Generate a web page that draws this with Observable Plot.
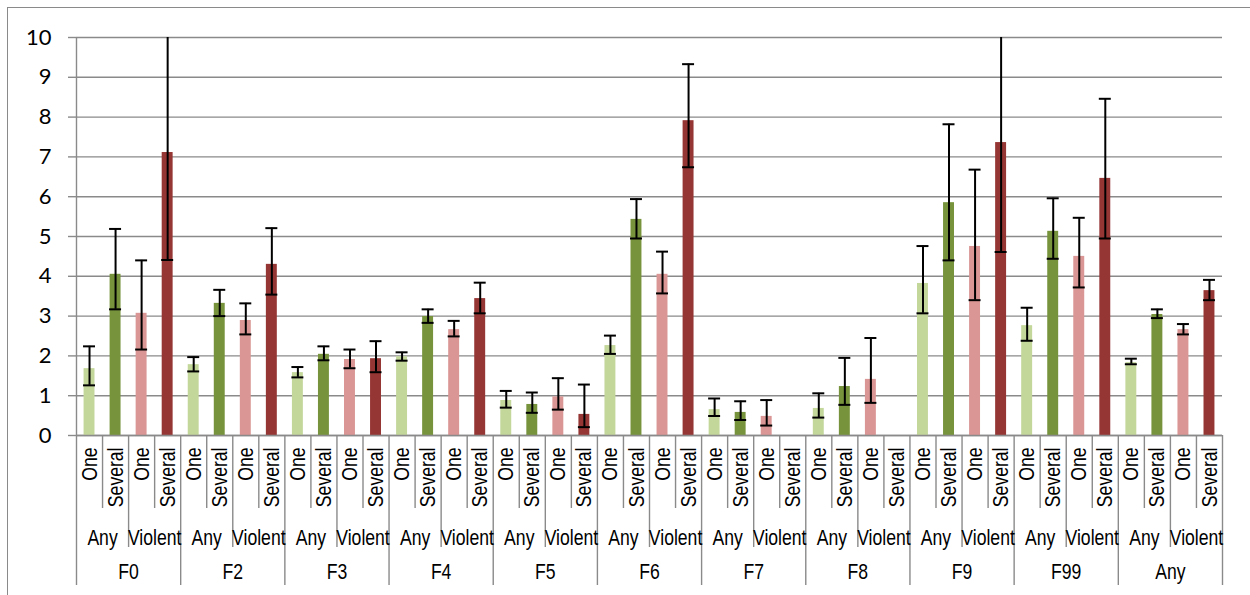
<!DOCTYPE html>
<html><head><meta charset="utf-8">
<script src="https://cdn.jsdelivr.net/npm/d3@7"></script>
<script src="https://cdn.jsdelivr.net/npm/@observablehq/plot@0.6"></script>
<style>
html,body{margin:0;padding:0;background:#fff;}
#wrap{position:relative;width:1250px;height:595px;overflow:hidden;}
#border{position:absolute;left:7px;top:7px;width:1300px;height:700px;border:1.5px solid #8a8a8a;box-sizing:border-box;pointer-events:none;}
</style></head><body>
<div id="wrap"><div id="chart"></div><div id="border"></div></div>
<script>
// categories
const groups = ["F0","F2","F3","F4","F5","F6","F7","F8","F9","F99","Any"];
const crimeTypes = ["Any","Violent"];
const counts = ["One","Several"];

// series values (estimate) with lower / upper error limits
const anyOne        = [1.68, 1.78, 1.58, 1.98, 0.88, 2.26, 0.65, 0.68, 3.82, 2.76, 1.83];
const anyOneLo      = [1.26, 1.61, 1.46, 1.88, 0.70, 2.05, 0.49, 0.45, 3.07, 2.38, 1.79];
const anyOneHi      = [2.24, 1.97, 1.72, 2.09, 1.12, 2.51, 0.93, 1.06, 4.76, 3.21, 1.93];
const anySeveral    = [4.05, 3.32, 2.04, 2.99, 0.78, 5.43, 0.58, 1.23, 5.85, 5.13, 3.04];
const anySeveralLo  = [3.17, 3.00, 1.89, 2.83, 0.57, 4.95, 0.39, 0.77, 4.40, 4.44, 2.95];
const anySeveralHi  = [5.19, 3.66, 2.24, 3.17, 1.08, 5.94, 0.86, 1.95, 7.82, 5.96, 3.17];
const violentOne    = [3.07, 2.89, 1.91, 2.66, 0.97, 4.05, 0.48, 1.41, 4.75, 4.50, 2.66];
const violentOneLo  = [2.16, 2.54, 1.69, 2.49, 0.65, 3.57, 0.25, 0.82, 3.40, 3.72, 2.54];
const violentOneHi  = [4.40, 3.32, 2.16, 2.88, 1.44, 4.62, 0.89, 2.45, 6.68, 5.47, 2.80];
const violentSeveral   = [7.11, 4.30, 1.93, 3.44, 0.53, 7.91, null, null, 7.36, 6.46, 3.64];
const violentSeveralLo = [4.41, 3.54, 1.59, 3.07, 0.21, 6.74, null, null, 4.61, 4.95, 3.40];
const violentSeveralHi = [11.5, 5.21, 2.37, 3.84, 1.28, 9.33, null, null, 11.7, 8.46, 3.91];

const yTicks = [0,1,2,3,4,5,6,7,8,9,10];

const seriesKeys = ["Any One","Any Several","Violent One","Violent Several"];
const seriesColors = ["#c4d79b","#77933c","#da9694","#963634"];
const seriesData = [
  [anyOne, anyOneLo, anyOneHi],
  [anySeveral, anySeveralLo, anySeveralHi],
  [violentOne, violentOneLo, violentOneHi],
  [violentSeveral, violentSeveralLo, violentSeveralHi]
];

const rows = [];
groups.forEach((g, gi) => {
  crimeTypes.forEach((c, ci) => {
    counts.forEach((k, ki) => {
      const s = ci * 2 + ki;
      rows.push({
        i: gi * 4 + s, group: g, crime: c, count: k, series: seriesKeys[s],
        value: seriesData[s][0][gi], lo: seriesData[s][1][gi], hi: seriesData[s][2][gi]
      });
    });
  });
});
const n = rows.length;
const present = rows.filter(d => d.value != null);

const gray = "#8a8a8a";
const labelFont = "'Liberation Sans', Arial, sans-serif";

const centers = rows.map(d => d.i + 0.5);
const innerSeps = rows.filter(d => d.i % 2 === 1).map(d => d.i);
const crimeSeps = rows.filter(d => d.i % 4 === 2).map(d => d.i);
const groupSeps = groups.map((g, gi) => gi * 4).concat([n]);
const crimeCenters = rows.filter(d => d.i % 2 === 1).map(d => d.i);
const groupCenters = groups.map((g, gi) => gi * 4 + 2);

const chart = Plot.plot({
  width: 1250,
  height: 595,
  marginLeft: 76,
  marginRight: 28,
  marginTop: 37,
  marginBottom: 160,
  style: {background: "transparent", color: "#000", overflow: "visible"},
  x: {type: "linear", domain: [0, n]},
  y: {domain: [0, 10]},
  color: {domain: seriesKeys, range: seriesColors},
  marks: [
    Plot.gridY(yTicks, {stroke: gray, strokeOpacity: 1, strokeWidth: 1.4}),
    Plot.rectY(present, {x1: d => d.i + 0.29, x2: d => d.i + 0.71, y: "value", fill: "series"}),
    Plot.ruleX(present, {x: d => d.i + 0.5, y1: "lo", y2: "hi", stroke: "#000", strokeWidth: 2, clip: true}),
    Plot.ruleY(present, {y: "lo", x1: d => d.i + 0.27, x2: d => d.i + 0.73, stroke: "#000", strokeWidth: 2, clip: true}),
    Plot.ruleY(present, {y: "hi", x1: d => d.i + 0.27, x2: d => d.i + 0.73, stroke: "#000", strokeWidth: 2, clip: true}),
    Plot.ruleY([0], {stroke: gray, strokeWidth: 1.4}),
    Plot.ruleX([0], {stroke: gray, strokeWidth: 1.4}),
    Plot.axisY({ticks: yTicks, tickSize: 8, tickPadding: 17, stroke: gray, strokeWidth: 1.4,
      fontSize: 22, fontFamily: "Lato, 'Open Sans', sans-serif", label: null, tickFormat: d => String(d)}),
    Plot.axisX({ticks: innerSeps, tickSize: 73, stroke: gray, strokeWidth: 1.4, tickFormat: () => "", label: null}),
    Plot.axisX({ticks: crimeSeps, tickSize: 112, stroke: gray, strokeWidth: 1.4, tickFormat: () => "", label: null}),
    Plot.axisX({ticks: groupSeps, tickSize: 150, stroke: gray, strokeWidth: 1.4, tickFormat: () => "", label: null}),
    Plot.axisX({ticks: centers, tickSize: 0, tickPadding: 12, tickRotate: -90,
      tickFormat: d => rows[Math.floor(d)].count, fontSize: 22, fontFamily: labelFont, label: null}),
    Plot.axisX({ticks: crimeCenters, tickSize: 0, tickPadding: 94,
      tickFormat: d => rows[d].crime, fontSize: 22, fontFamily: labelFont, label: null}),
    Plot.axisX({ticks: groupCenters, tickSize: 0, tickPadding: 128,
      tickFormat: d => rows[d].group, fontSize: 22, fontFamily: labelFont, label: null})
  ]
});
document.getElementById("chart").appendChild(chart);

// condense the category labels (the original uses a narrow face)
d3.select(chart).selectAll('g[aria-label="x-axis tick label"] text').each(function() {
  const t = d3.select(this);
  const tr = t.attr("transform");
  if (tr) {
    t.attr("transform", tr + " scale(0.8,1)");
  } else {
    const x = +t.attr("x") || 0;
    t.attr("x", x / 0.8).attr("transform", "scale(0.8,1)");
  }
});
</script>
</body></html>
